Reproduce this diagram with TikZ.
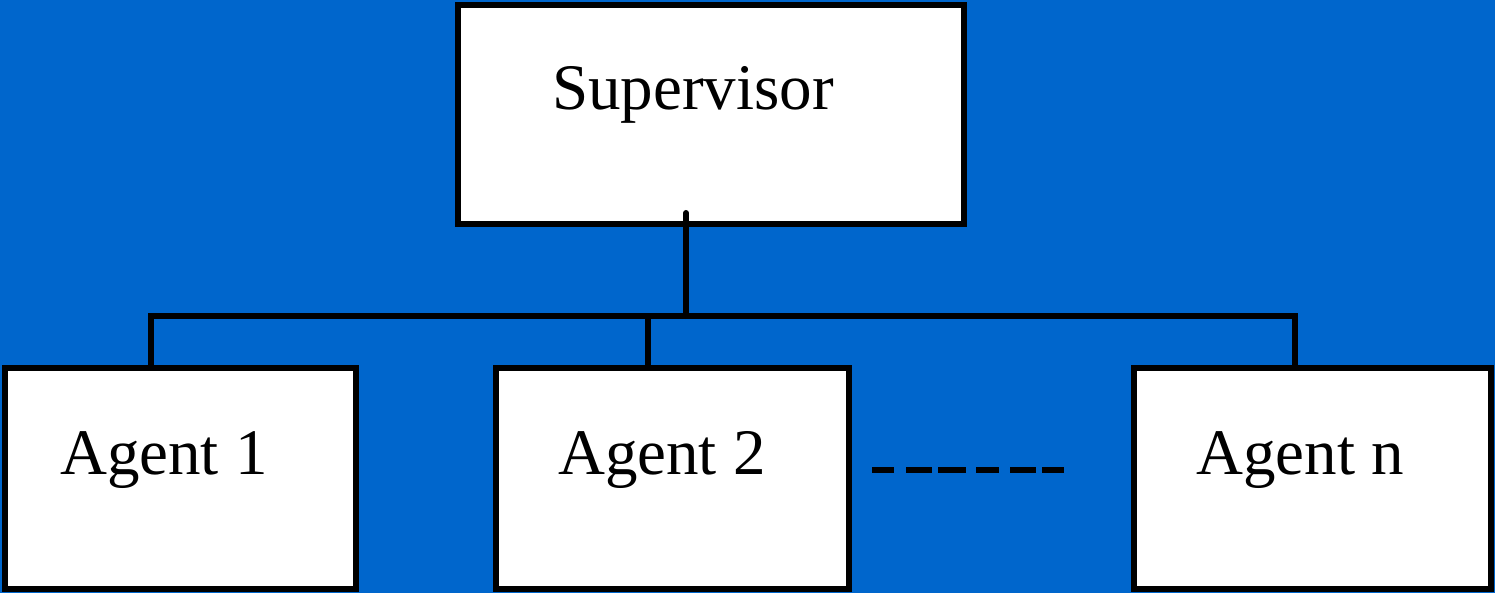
\documentclass[tikz,border=0pt]{standalone}
\usepackage{fontspec}
\setmainfont{Liberation Serif}
\definecolor{panelblue}{HTML}{0066CC}
\begin{document}
\begin{tikzpicture}[x=1pt,y=-1pt,
  box/.style={draw=black, fill=white, line width=6pt, inner sep=0pt, rectangle},
  wire/.style={draw=black, line width=6pt},
  lbl/.style={anchor=base west, inner sep=0pt, font=\fontsize{65}{70}\selectfont}]
  % background panel
  \fill[panelblue] (0,0) rectangle (1495,593);
  \useasboundingbox (0,0) rectangle (1495,593);

  % boxes
  \node[box, minimum width=506pt, minimum height=219pt] (sup) at (711,114.5) {};
  \node[box, minimum width=351pt, minimum height=221pt] (a1) at (180,478.5) {};
  \node[box, minimum width=353pt, minimum height=221pt] (a2) at (672.5,478.5) {};
  \node[box, minimum width=357pt, minimum height=221pt] (an) at (1312.5,478.5) {};

  % labels
  \node[lbl] (tsup) at (552,110) {Supervisor};
  \node[lbl] (t1) at (60,474) {Agent 1};
  \node[lbl] (t2) at (558,474) {Agent 2};
  \node[lbl] (tn) at (1196,474) {Agent n};

  % tree connectors
  \coordinate (stub) at (686,213);
  \coordinate (bus) at (686,316);
  \coordinate (j1) at (151,316);
  \coordinate (j2) at (648,316);
  \coordinate (jn) at (1295,316);
  \draw[wire, line cap=round] (stub) -- (bus);
  \draw[wire] (a1.north -| j1) -- (j1) -- (jn) -- (an.north -| jn);
  \draw[wire] (j2) -- (a2.north -| j2);

  % ellipsis between the second and last agent
  \foreach \xa/\xb in {872/894, 906/932, 938/966, 976/999, 1010/1036, 1042/1064}
    \draw[wire] (\xa,470) -- (\xb,470);
\end{tikzpicture}
\end{document}
